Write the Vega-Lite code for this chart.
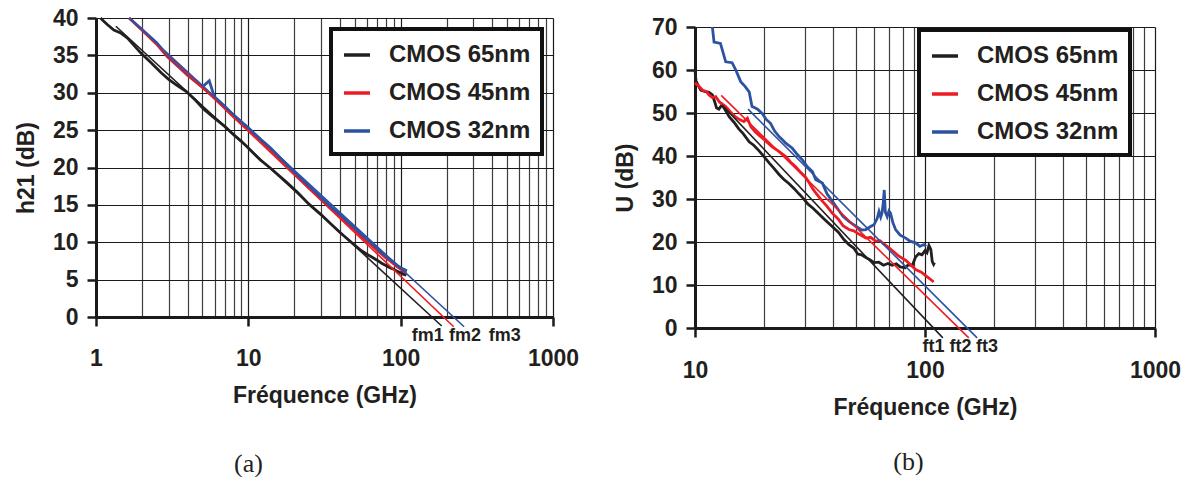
{
"$schema": "https://vega.github.io/schema/vega-lite/v6.json",
"background": "white",
"padding": {"left": 15, "top": 7, "right": 5, "bottom": 0},
"config": {
 "view": {"stroke": null},
 "font": "Liberation Sans",
 "axis": {"labelFont": "Liberation Sans", "labelFontSize": 23, "labelFontWeight": "bold", "labelColor": "#231f20",
  "titleFont": "Liberation Sans", "titleFontSize": 23, "titleFontWeight": "bold", "titleColor": "#231f20",
  "domainColor": "#1a1a1a", "domainWidth": 3, "tickColor": "#1a1a1a", "tickWidth": 2.5, "tickSize": 9,
  "grid": true, "gridColor": "#1a1a1a", "gridWidth": 1.2, "gridOpacity": 1, "labelOverlap": false},
 "legend": {"orient": "none", "symbolType": "stroke", "symbolSize": 676, "symbolStrokeWidth": 3.5,
  "labelFont": "Liberation Sans", "labelFontSize": 24, "labelFontWeight": "bold", "labelColor": "#231f20",
  "labelOffset": 17, "rowPadding": 11, "padding": 11, "strokeColor": "#111111", "fillColor": "white", "title": null},
 "line": {"clip": false}
},
"datasets": {
 "a_meas": [
  {"tech":"CMOS 65nm","f":1.07,"v":40},{"tech":"CMOS 65nm","f":1.12,"v":39.6},{"tech":"CMOS 65nm","f":1.19,"v":39.1},{"tech":"CMOS 65nm","f":1.31,"v":38.4},{"tech":"CMOS 65nm","f":1.45,"v":38.0},{"tech":"CMOS 65nm","f":1.61,"v":37.3},{"tech":"CMOS 65nm","f":1.8,"v":36.2},{"tech":"CMOS 65nm","f":1.97,"v":35.3},{"tech":"CMOS 65nm","f":2.3,"v":34.0},{"tech":"CMOS 65nm","f":2.7,"v":32.6},{"tech":"CMOS 65nm","f":3.0,"v":31.8},{"tech":"CMOS 65nm","f":3.4,"v":31.0},{"tech":"CMOS 65nm","f":3.9,"v":30.2},{"tech":"CMOS 65nm","f":4.5,"v":29.0},{"tech":"CMOS 65nm","f":5.1,"v":27.8},{"tech":"CMOS 65nm","f":6.0,"v":26.6},{"tech":"CMOS 65nm","f":7.0,"v":25.5},{"tech":"CMOS 65nm","f":8.0,"v":24.4},{"tech":"CMOS 65nm","f":9.0,"v":23.5},{"tech":"CMOS 65nm","f":10.0,"v":22.6},{"tech":"CMOS 65nm","f":12.0,"v":21.0},{"tech":"CMOS 65nm","f":14.0,"v":19.9},{"tech":"CMOS 65nm","f":17.7,"v":18.1},{"tech":"CMOS 65nm","f":21.0,"v":16.7},{"tech":"CMOS 65nm","f":25.0,"v":15.1},{"tech":"CMOS 65nm","f":30.0,"v":13.7},{"tech":"CMOS 65nm","f":35.0,"v":12.4},{"tech":"CMOS 65nm","f":40.0,"v":11.3},{"tech":"CMOS 65nm","f":45.0,"v":10.4},{"tech":"CMOS 65nm","f":50.0,"v":9.6},{"tech":"CMOS 65nm","f":55.0,"v":8.9},{"tech":"CMOS 65nm","f":60.0,"v":8.4},{"tech":"CMOS 65nm","f":65.0,"v":8.0},{"tech":"CMOS 65nm","f":70.0,"v":7.6},{"tech":"CMOS 65nm","f":75.0,"v":7.2},{"tech":"CMOS 65nm","f":80.0,"v":6.9},{"tech":"CMOS 65nm","f":85.0,"v":6.6},{"tech":"CMOS 65nm","f":90.0,"v":6.4},{"tech":"CMOS 65nm","f":95.0,"v":6.1},{"tech":"CMOS 65nm","f":100.0,"v":5.9},{"tech":"CMOS 65nm","f":105.0,"v":5.7},{"tech":"CMOS 65nm","f":109.0,"v":5.6},
  {"tech":"CMOS 45nm","f":1.65,"v":40},{"tech":"CMOS 45nm","f":2.0,"v":38.4},{"tech":"CMOS 45nm","f":2.5,"v":36.5},{"tech":"CMOS 45nm","f":2.94,"v":34.8},{"tech":"CMOS 45nm","f":3.5,"v":33.4},{"tech":"CMOS 45nm","f":4.0,"v":32.3},{"tech":"CMOS 45nm","f":5.0,"v":30.7},{"tech":"CMOS 45nm","f":6.0,"v":29.3},{"tech":"CMOS 45nm","f":7.0,"v":28.0},{"tech":"CMOS 45nm","f":8.0,"v":26.8},{"tech":"CMOS 45nm","f":9.0,"v":25.9},{"tech":"CMOS 45nm","f":10.0,"v":25.1},{"tech":"CMOS 45nm","f":12.0,"v":23.6},{"tech":"CMOS 45nm","f":14.0,"v":22.3},{"tech":"CMOS 45nm","f":16.0,"v":21.1},{"tech":"CMOS 45nm","f":19.0,"v":19.6},{"tech":"CMOS 45nm","f":22.0,"v":18.4},{"tech":"CMOS 45nm","f":25.0,"v":17.3},{"tech":"CMOS 45nm","f":30.0,"v":15.8},{"tech":"CMOS 45nm","f":35.0,"v":14.5},{"tech":"CMOS 45nm","f":40.0,"v":13.4},{"tech":"CMOS 45nm","f":45.0,"v":12.4},{"tech":"CMOS 45nm","f":50.0,"v":11.6},{"tech":"CMOS 45nm","f":55.0,"v":10.8},{"tech":"CMOS 45nm","f":60.0,"v":10.1},{"tech":"CMOS 45nm","f":65.0,"v":9.5},{"tech":"CMOS 45nm","f":70.0,"v":8.9},{"tech":"CMOS 45nm","f":75.0,"v":8.4},{"tech":"CMOS 45nm","f":80.0,"v":7.9},{"tech":"CMOS 45nm","f":85.0,"v":7.5},{"tech":"CMOS 45nm","f":90.0,"v":7.1},{"tech":"CMOS 45nm","f":95.0,"v":6.7},{"tech":"CMOS 45nm","f":100.0,"v":6.4},{"tech":"CMOS 45nm","f":105.0,"v":6.1},{"tech":"CMOS 45nm","f":109.0,"v":5.9},
  {"tech":"CMOS 32nm","f":1.65,"v":40},{"tech":"CMOS 32nm","f":2.0,"v":38.5},{"tech":"CMOS 32nm","f":2.5,"v":36.7},{"tech":"CMOS 32nm","f":2.94,"v":35.0},{"tech":"CMOS 32nm","f":3.5,"v":33.6},{"tech":"CMOS 32nm","f":4.0,"v":32.5},{"tech":"CMOS 32nm","f":4.5,"v":31.6},{"tech":"CMOS 32nm","f":5.0,"v":30.8},{"tech":"CMOS 32nm","f":5.54,"v":31.6},{"tech":"CMOS 32nm","f":5.97,"v":29.5},{"tech":"CMOS 32nm","f":7.0,"v":28.2},{"tech":"CMOS 32nm","f":8.0,"v":27.0},{"tech":"CMOS 32nm","f":9.0,"v":26.1},{"tech":"CMOS 32nm","f":10.0,"v":25.3},{"tech":"CMOS 32nm","f":12.0,"v":23.8},{"tech":"CMOS 32nm","f":14.0,"v":22.6},{"tech":"CMOS 32nm","f":16.0,"v":21.4},{"tech":"CMOS 32nm","f":19.1,"v":19.8},{"tech":"CMOS 32nm","f":22.0,"v":18.6},{"tech":"CMOS 32nm","f":25.0,"v":17.5},{"tech":"CMOS 32nm","f":30.0,"v":16.0},{"tech":"CMOS 32nm","f":35.0,"v":14.7},{"tech":"CMOS 32nm","f":40.0,"v":13.7},{"tech":"CMOS 32nm","f":45.0,"v":12.7},{"tech":"CMOS 32nm","f":50.0,"v":11.9},{"tech":"CMOS 32nm","f":55.0,"v":11.1},{"tech":"CMOS 32nm","f":60.0,"v":10.4},{"tech":"CMOS 32nm","f":65.0,"v":9.8},{"tech":"CMOS 32nm","f":70.0,"v":9.2},{"tech":"CMOS 32nm","f":75.0,"v":8.6},{"tech":"CMOS 32nm","f":80.0,"v":8.1},{"tech":"CMOS 32nm","f":85.0,"v":7.7},{"tech":"CMOS 32nm","f":90.0,"v":7.3},{"tech":"CMOS 32nm","f":95.0,"v":6.9},{"tech":"CMOS 32nm","f":100.0,"v":6.6},{"tech":"CMOS 32nm","f":105.0,"v":6.4},{"tech":"CMOS 32nm","f":110.0,"v":6.2}
 ],
 "a_fit": [
  {"tech":"CMOS 65nm","f":1.35,"v":38.9},{"tech":"CMOS 65nm","f":186,"v":-1.2},
  {"tech":"CMOS 45nm","f":1.65,"v":40},{"tech":"CMOS 45nm","f":223,"v":-1.3},
  {"tech":"CMOS 32nm","f":1.65,"v":40},{"tech":"CMOS 32nm","f":261,"v":-1.3}
 ],
 "a_lbl": [
  {"txt":"fm1","f":150.5,"v":-2.5},{"txt":"fm2","f":264,"v":-2.5},{"txt":"fm3","f":483,"v":-2.5}
 ],
 "b_meas": [
  {"tech":"CMOS 65nm","f":10.0,"v":60.0},{"tech":"CMOS 65nm","f":10.1,"v":57.5},{"tech":"CMOS 65nm","f":10.3,"v":56.5},{"tech":"CMOS 65nm","f":10.6,"v":55.3},{"tech":"CMOS 65nm","f":11.0,"v":55.0},{"tech":"CMOS 65nm","f":11.5,"v":54.8},{"tech":"CMOS 65nm","f":11.9,"v":54.2},{"tech":"CMOS 65nm","f":12.2,"v":52.5},{"tech":"CMOS 65nm","f":12.4,"v":51.2},{"tech":"CMOS 65nm","f":12.7,"v":50.9},{"tech":"CMOS 65nm","f":13.1,"v":51.9},{"tech":"CMOS 65nm","f":13.6,"v":50.5},{"tech":"CMOS 65nm","f":14.1,"v":49.1},{"tech":"CMOS 65nm","f":14.8,"v":47.8},{"tech":"CMOS 65nm","f":15.5,"v":46.3},{"tech":"CMOS 65nm","f":16.2,"v":45.2},{"tech":"CMOS 65nm","f":17.2,"v":43.3},{"tech":"CMOS 65nm","f":18.0,"v":42.5},{"tech":"CMOS 65nm","f":19.0,"v":41.2},{"tech":"CMOS 65nm","f":20.0,"v":39.8},{"tech":"CMOS 65nm","f":21.0,"v":38.4},{"tech":"CMOS 65nm","f":22.0,"v":37.2},{"tech":"CMOS 65nm","f":23.2,"v":35.7},{"tech":"CMOS 65nm","f":24.3,"v":34.6},{"tech":"CMOS 65nm","f":25.6,"v":33.6},{"tech":"CMOS 65nm","f":27.0,"v":32.4},{"tech":"CMOS 65nm","f":28.3,"v":31.2},{"tech":"CMOS 65nm","f":29.5,"v":30.2},{"tech":"CMOS 65nm","f":31.0,"v":28.8},{"tech":"CMOS 65nm","f":32.5,"v":27.9},{"tech":"CMOS 65nm","f":34.6,"v":26.5},{"tech":"CMOS 65nm","f":36.5,"v":25.3},{"tech":"CMOS 65nm","f":39.5,"v":23.6},{"tech":"CMOS 65nm","f":42.0,"v":22.3},{"tech":"CMOS 65nm","f":44.5,"v":20.5},{"tech":"CMOS 65nm","f":46.7,"v":19.4},{"tech":"CMOS 65nm","f":49.0,"v":18.6},{"tech":"CMOS 65nm","f":51.0,"v":17.2},{"tech":"CMOS 65nm","f":53.0,"v":17.0},{"tech":"CMOS 65nm","f":55.3,"v":16.4},{"tech":"CMOS 65nm","f":58.0,"v":15.8},{"tech":"CMOS 65nm","f":60.0,"v":15.2},{"tech":"CMOS 65nm","f":63.0,"v":15.3},{"tech":"CMOS 65nm","f":66.0,"v":14.6},{"tech":"CMOS 65nm","f":69.0,"v":15.0},{"tech":"CMOS 65nm","f":72.0,"v":14.6},{"tech":"CMOS 65nm","f":75.0,"v":14.9},{"tech":"CMOS 65nm","f":78.0,"v":14.2},{"tech":"CMOS 65nm","f":82.0,"v":14.0},{"tech":"CMOS 65nm","f":85.0,"v":14.8},{"tech":"CMOS 65nm","f":88.0,"v":14.5},{"tech":"CMOS 65nm","f":91.0,"v":16.5},{"tech":"CMOS 65nm","f":94.0,"v":17.3},{"tech":"CMOS 65nm","f":97.0,"v":17.0},{"tech":"CMOS 65nm","f":100.0,"v":18.0},{"tech":"CMOS 65nm","f":102.0,"v":17.5},{"tech":"CMOS 65nm","f":104.0,"v":19.2},{"tech":"CMOS 65nm","f":106.0,"v":18.3},{"tech":"CMOS 65nm","f":107.5,"v":15.5},{"tech":"CMOS 65nm","f":109.0,"v":14.8},{"tech":"CMOS 65nm","f":110.0,"v":15.2},
  {"tech":"CMOS 45nm","f":10.0,"v":57.0},{"tech":"CMOS 45nm","f":10.4,"v":56.2},{"tech":"CMOS 45nm","f":10.8,"v":55.3},{"tech":"CMOS 45nm","f":11.2,"v":55.0},{"tech":"CMOS 45nm","f":11.5,"v":54.2},{"tech":"CMOS 45nm","f":11.9,"v":53.6},{"tech":"CMOS 45nm","f":12.3,"v":53.8},{"tech":"CMOS 45nm","f":12.8,"v":52.5},{"tech":"CMOS 45nm","f":13.6,"v":51.5},{"tech":"CMOS 45nm","f":14.3,"v":50.2},{"tech":"CMOS 45nm","f":15.0,"v":49.1},{"tech":"CMOS 45nm","f":15.7,"v":48.4},{"tech":"CMOS 45nm","f":16.3,"v":48.0},{"tech":"CMOS 45nm","f":16.9,"v":48.8},{"tech":"CMOS 45nm","f":17.5,"v":46.8},{"tech":"CMOS 45nm","f":18.3,"v":45.6},{"tech":"CMOS 45nm","f":19.3,"v":44.5},{"tech":"CMOS 45nm","f":20.4,"v":43.4},{"tech":"CMOS 45nm","f":21.6,"v":42.2},{"tech":"CMOS 45nm","f":23.0,"v":41.2},{"tech":"CMOS 45nm","f":24.8,"v":39.9},{"tech":"CMOS 45nm","f":26.0,"v":38.6},{"tech":"CMOS 45nm","f":27.4,"v":37.5},{"tech":"CMOS 45nm","f":28.8,"v":36.2},{"tech":"CMOS 45nm","f":30.3,"v":35.0},{"tech":"CMOS 45nm","f":31.5,"v":33.6},{"tech":"CMOS 45nm","f":32.4,"v":32.5},{"tech":"CMOS 45nm","f":33.5,"v":31.4},{"tech":"CMOS 45nm","f":35.4,"v":29.8},{"tech":"CMOS 45nm","f":37.5,"v":28.3},{"tech":"CMOS 45nm","f":39.5,"v":26.7},{"tech":"CMOS 45nm","f":42.0,"v":25.3},{"tech":"CMOS 45nm","f":44.0,"v":23.8},{"tech":"CMOS 45nm","f":46.7,"v":22.9},{"tech":"CMOS 45nm","f":49.0,"v":22.6},{"tech":"CMOS 45nm","f":51.0,"v":22.0},{"tech":"CMOS 45nm","f":53.0,"v":21.5},{"tech":"CMOS 45nm","f":55.3,"v":20.9},{"tech":"CMOS 45nm","f":58.0,"v":21.1},{"tech":"CMOS 45nm","f":61.0,"v":20.2},{"tech":"CMOS 45nm","f":63.7,"v":20.3},{"tech":"CMOS 45nm","f":66.0,"v":19.6},{"tech":"CMOS 45nm","f":70.0,"v":18.6},{"tech":"CMOS 45nm","f":74.0,"v":17.5},{"tech":"CMOS 45nm","f":77.0,"v":16.7},{"tech":"CMOS 45nm","f":82.6,"v":15.7},{"tech":"CMOS 45nm","f":87.0,"v":14.6},{"tech":"CMOS 45nm","f":91.0,"v":13.6},{"tech":"CMOS 45nm","f":96.4,"v":13.0},{"tech":"CMOS 45nm","f":100.0,"v":12.3},{"tech":"CMOS 45nm","f":104.0,"v":11.6},{"tech":"CMOS 45nm","f":107.5,"v":11.0},{"tech":"CMOS 45nm","f":109.0,"v":10.7},
  {"tech":"CMOS 32nm","f":11.9,"v":70.0},{"tech":"CMOS 32nm","f":12.1,"v":66.5},{"tech":"CMOS 32nm","f":12.9,"v":66.2},{"tech":"CMOS 32nm","f":13.6,"v":61.9},{"tech":"CMOS 32nm","f":14.5,"v":61.7},{"tech":"CMOS 32nm","f":15.1,"v":59.8},{"tech":"CMOS 32nm","f":15.8,"v":57.3},{"tech":"CMOS 32nm","f":16.5,"v":56.2},{"tech":"CMOS 32nm","f":17.2,"v":54.9},{"tech":"CMOS 32nm","f":17.7,"v":51.5},{"tech":"CMOS 32nm","f":18.2,"v":51.2},{"tech":"CMOS 32nm","f":18.7,"v":50.9},{"tech":"CMOS 32nm","f":19.6,"v":49.9},{"tech":"CMOS 32nm","f":20.4,"v":48.5},{"tech":"CMOS 32nm","f":21.3,"v":47.6},{"tech":"CMOS 32nm","f":22.2,"v":45.8},{"tech":"CMOS 32nm","f":23.2,"v":44.5},{"tech":"CMOS 32nm","f":24.0,"v":43.8},{"tech":"CMOS 32nm","f":24.8,"v":43.0},{"tech":"CMOS 32nm","f":26.5,"v":41.8},{"tech":"CMOS 32nm","f":27.8,"v":40.4},{"tech":"CMOS 32nm","f":29.3,"v":39.1},{"tech":"CMOS 32nm","f":30.8,"v":37.5},{"tech":"CMOS 32nm","f":32.4,"v":36.4},{"tech":"CMOS 32nm","f":33.5,"v":34.5},{"tech":"CMOS 32nm","f":35.8,"v":33.7},{"tech":"CMOS 32nm","f":37.5,"v":31.2},{"tech":"CMOS 32nm","f":39.5,"v":29.5},{"tech":"CMOS 32nm","f":42.0,"v":27.5},{"tech":"CMOS 32nm","f":44.0,"v":26.0},{"tech":"CMOS 32nm","f":46.7,"v":24.8},{"tech":"CMOS 32nm","f":49.0,"v":24.0},{"tech":"CMOS 32nm","f":51.0,"v":23.4},{"tech":"CMOS 32nm","f":53.0,"v":22.8},{"tech":"CMOS 32nm","f":55.3,"v":22.9},{"tech":"CMOS 32nm","f":58.0,"v":23.6},{"tech":"CMOS 32nm","f":60.0,"v":24.0},{"tech":"CMOS 32nm","f":62.0,"v":25.5},{"tech":"CMOS 32nm","f":63.1,"v":27.1},{"tech":"CMOS 32nm","f":64.2,"v":25.8},{"tech":"CMOS 32nm","f":65.0,"v":26.7},{"tech":"CMOS 32nm","f":65.8,"v":29.0},{"tech":"CMOS 32nm","f":66.5,"v":32.1},{"tech":"CMOS 32nm","f":67.2,"v":27.0},{"tech":"CMOS 32nm","f":68.5,"v":25.9},{"tech":"CMOS 32nm","f":69.7,"v":27.2},{"tech":"CMOS 32nm","f":70.8,"v":26.7},{"tech":"CMOS 32nm","f":72.5,"v":24.5},{"tech":"CMOS 32nm","f":74.5,"v":22.9},{"tech":"CMOS 32nm","f":78.0,"v":21.6},{"tech":"CMOS 32nm","f":82.5,"v":20.9},{"tech":"CMOS 32nm","f":86.0,"v":20.2},{"tech":"CMOS 32nm","f":91.0,"v":19.8},{"tech":"CMOS 32nm","f":95.0,"v":19.0},{"tech":"CMOS 32nm","f":99.0,"v":19.4},{"tech":"CMOS 32nm","f":101.0,"v":19.0}
 ],
 "b_fit": [
  {"tech":"CMOS 65nm","f":13.1,"v":51.9},{"tech":"CMOS 65nm","f":119.6,"v":-2.3},
  {"tech":"CMOS 45nm","f":13.0,"v":54.1},{"tech":"CMOS 45nm","f":155,"v":-2.3},
  {"tech":"CMOS 32nm","f":17.0,"v":50.9},{"tech":"CMOS 32nm","f":168.5,"v":-2.3}
 ],
 "b_lbl": [
  {"txt":"ft1","f":108.8,"v":-4.4},{"txt":"ft2","f":142.6,"v":-4.4},{"txt":"ft3","f":186,"v":-4.4}
 ]
},
"resolve": {"scale": {"color": "independent"}, "legend": {"color": "independent"}},
"spacing": 35,
"hconcat": [
 {
  "width": 457, "height": 299,
  "title": {"text": "(a)", "orient": "bottom", "anchor": "middle", "font": "Liberation Serif", "fontSize": 26, "fontWeight": "normal", "color": "#231f20", "offset": 44, "dx": -76},
  "encoding": {
   "x": {"field": "f", "type": "quantitative", "scale": {"type": "log", "domain": [1, 1000], "nice": false},
    "axis": {"title": "Fréquence (GHz)", "values": [1,2,3,4,5,6,7,8,9,10,20,30,40,50,60,70,80,90,100,200,300,400,500,600,700,800,900,1000], "tickCount": 60,
     "labelExpr": "(datum.value==1||datum.value==10||datum.value==100||datum.value==1000) ? format(datum.value,'d') : ''",
     "labelOverlap": false, "labelFlush": false, "labelPadding": 21, "titlePadding": 14,
     "tickOpacity": {"condition": {"test": "datum.value==1||datum.value==10||datum.value==100||datum.value==1000", "value": 1}, "value": 0},
     "gridColor": {"condition": {"test": "datum.value==1||datum.value==10||datum.value==100||datum.value==1000", "value": "#1a1a1a"}, "value": "#3c3c3c"}}},
   "y": {"field": "v", "type": "quantitative", "scale": {"domain": [0, 40], "nice": false, "zero": false},
    "axis": {"title": "h21 (dB)", "values": [0,5,10,15,20,25,30,35,40], "tickCount": 20, "labelOverlap": false, "labelPadding": 9, "titlePadding": 14}}
  },
  "layer": [
   {"data": {"name": "a_meas"}, "mark": {"type": "line", "strokeWidth": 2.8},
    "encoding": {
     "color": {"field": "tech", "type": "nominal", "scale": {"domain": ["CMOS 65nm","CMOS 45nm","CMOS 32nm"], "range": ["#231f20","#ed1c24","#2d52a2"]},
      "legend": {"legendX": 235, "legendY": 11, "encode": {"legend": {"update": {"strokeWidth": {"value": 4}}}}}}
    }},
   {"data": {"name": "a_fit"}, "mark": {"type": "line", "strokeWidth": 1.6},
    "encoding": {"color": {"field": "tech", "type": "nominal"}}},
   {"data": {"name": "a_lbl"}, "mark": {"type": "text", "font": "Liberation Sans", "fontSize": 18, "fontWeight": "bold", "color": "#231f20", "align": "center", "baseline": "middle"},
    "encoding": {"text": {"field": "txt"}}}
  ]
 },
 {
  "title": {"text": "(b)", "orient": "bottom", "anchor": "middle", "font": "Liberation Serif", "fontSize": 26, "fontWeight": "normal", "color": "#231f20", "offset": 30, "dx": 11},
  "bounds": "flush",
  "spacing": 8,
  "vconcat": [
   {"width": 460, "height": 1, "data": {"values": []}, "mark": {"type": "point", "opacity": 0}},
   {
    "width": 460, "height": 301,
    "encoding": {
     "x": {"field": "f", "type": "quantitative", "scale": {"type": "log", "domain": [10, 1000], "nice": false},
      "axis": {"title": "Fréquence (GHz)", "values": [10,20,30,40,50,60,70,80,90,100,200,300,400,500,600,700,800,900,1000], "tickCount": 60,
       "labelExpr": "(datum.value==10||datum.value==100||datum.value==1000) ? format(datum.value,'d') : ''",
       "labelOverlap": false, "labelFlush": false, "labelPadding": 22, "titlePadding": 14,
       "tickOpacity": {"condition": {"test": "datum.value==10||datum.value==100||datum.value==1000", "value": 1}, "value": 0},
       "gridColor": {"condition": {"test": "datum.value==10||datum.value==100||datum.value==1000", "value": "#1a1a1a"}, "value": "#3c3c3c"}}},
     "y": {"field": "v", "type": "quantitative", "scale": {"domain": [0, 70], "nice": false, "zero": false},
      "axis": {"title": "U (dB)", "values": [0,10,20,30,40,50,60,70], "tickCount": 20, "labelOverlap": false, "labelPadding": 9, "titlePadding": 14}}
    },
    "layer": [
     {"data": {"name": "b_meas"}, "mark": {"type": "line", "strokeWidth": 2.8},
      "encoding": {
       "color": {"field": "tech", "type": "nominal", "scale": {"domain": ["CMOS 65nm","CMOS 45nm","CMOS 32nm"], "range": ["#231f20","#ed1c24","#2d52a2"]},
        "legend": {"legendX": 224, "legendY": 12, "encode": {"legend": {"update": {"strokeWidth": {"value": 4}}}}}}
      }},
     {"data": {"name": "b_fit"}, "mark": {"type": "line", "strokeWidth": 1.6},
      "encoding": {"color": {"field": "tech", "type": "nominal"}}},
     {"data": {"name": "b_lbl"}, "mark": {"type": "text", "font": "Liberation Sans", "fontSize": 18, "fontWeight": "bold", "color": "#231f20", "align": "center", "baseline": "middle"},
      "encoding": {"text": {"field": "txt"}}}
    ]
   }
  ]
 }
]
}
